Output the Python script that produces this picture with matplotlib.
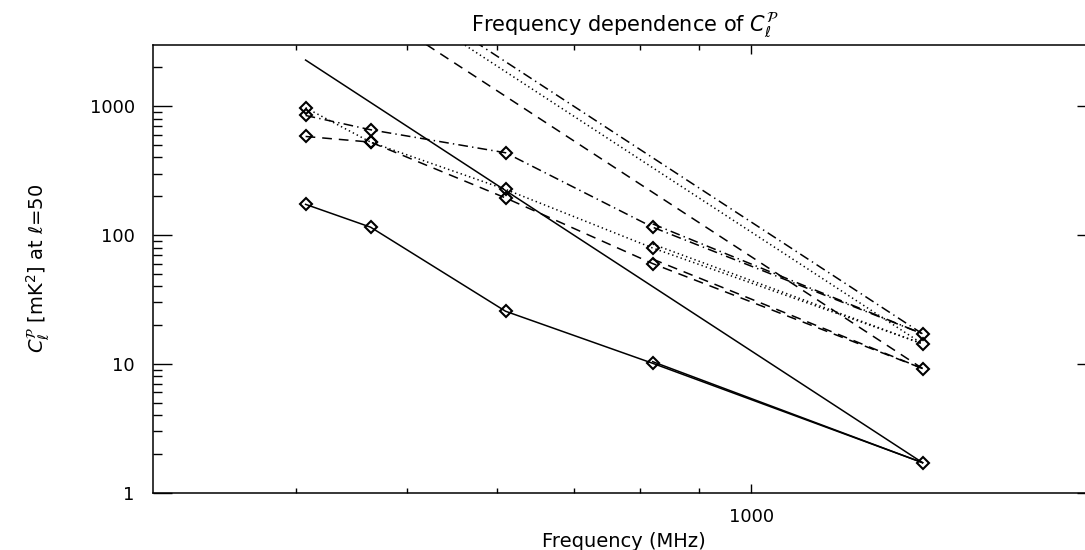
import matplotlib
matplotlib.use('Agg')
import matplotlib.pyplot as plt
from matplotlib.ticker import FixedLocator, FixedFormatter, NullFormatter

plt.rcParams['font.family'] = ['DejaVu Sans']
plt.rcParams['mathtext.fontset'] = 'dejavusans'
plt.rcParams['lines.scale_dashes'] = False

# ---- data ----
freqs = [408, 465, 610, 820, 1411]
cl_solid = [173, 115, 25.6, 10.1, 1.71]
cl_dashed = [582, 526, 194, 60, 9.2]
cl_dotted = [972, 526, 226, 79.3, 14.3]
cl_dashdot = [847, 656, 435, 115, 17.1]

# second, nearly coincident segment of each series between 820 and 1411 MHz
pair_freqs = [820, 1411]
pair_solid = [10.4, 1.71]
pair_dashed = [65, 9.2]
pair_dotted = [85, 14.3]
pair_dashdot = [122, 17.1]

# straight power-law lines (endpoints at 408 and 1411 MHz)
fit_freqs = [408, 1411]
fit_solid = [2280, 1.71]
fit_dashed = [12300, 9.2]
fit_dotted = [19100, 14.3]
fit_dashdot = [22800, 17.1]

x_major = [1000]
x_major_labels = ['1000']
x_minor = [400, 500, 600, 700, 800, 900, 2000]
y_major = [1, 10, 100, 1000]
y_major_labels = ['1', '10', '100', '1000']
y_minor = [2, 3, 4, 5, 6, 7, 8, 9, 20, 30, 40, 50, 60, 70, 80, 90,
           200, 300, 400, 500, 600, 700, 800, 900, 2000]

W, H = 1085, 550
fig = plt.figure(figsize=(W / 100, H / 100), dpi=100)
ax = fig.add_axes([152.7 / W, 57.3 / H, 943.3 / W, 448 / H])

styles = [
    (cl_solid, pair_solid, fit_solid, dict(linestyle='-')),
    (cl_dashed, pair_dashed, fit_dashed, dict(dashes=(7, 5))),
    (cl_dotted, pair_dotted, fit_dotted, dict(dashes=(1, 2.2))),
    (cl_dashdot, pair_dashdot, fit_dashdot, dict(dashes=(7, 3, 1, 3))),
]
for vals, pair, fit, st in styles:
    ax.plot(freqs, vals, color='black', lw=1.1, marker='D', ms=6.5,
            mfc='none', mec='black', mew=1.5, **st)
    ax.plot(pair_freqs, pair, color='black', lw=1.1, **st)
    ax.plot(fit_freqs, fit, color='black', lw=1.1, **st)

ax.set_xscale('log')
ax.set_yscale('log')
ax.set_xlim(300, 2000)
ax.set_ylim(1, 3000)

ax.xaxis.set_major_locator(FixedLocator(x_major))
ax.xaxis.set_major_formatter(FixedFormatter(x_major_labels))
ax.xaxis.set_minor_locator(FixedLocator(x_minor))
ax.xaxis.set_minor_formatter(NullFormatter())
ax.yaxis.set_major_locator(FixedLocator(y_major))
ax.yaxis.set_major_formatter(FixedFormatter(y_major_labels))
ax.yaxis.set_minor_locator(FixedLocator(y_minor))
ax.yaxis.set_minor_formatter(NullFormatter())

ax.tick_params(axis='both', which='both', direction='in', top=True, right=True,
               width=1.0, labelsize=13, colors='black')
ax.tick_params(axis='x', which='major', length=6.5, pad=11)
ax.tick_params(axis='x', which='minor', length=3.3)
ax.tick_params(axis='y', which='major', length=13.7, pad=13)
ax.tick_params(axis='y', which='minor', length=6.6)
for s in ax.spines.values():
    s.set_linewidth(1.1)

ax.set_title(r'Frequency dependence of $C_\ell^{\mathcal{P}}$', fontsize=15, pad=9)
ax.set_xlabel('Frequency (MHz)', fontsize=14, labelpad=4)
ax.set_ylabel(r'$C_\ell^{\mathcal{P}}$ [mK$^2$] at $\ell$=50', fontsize=14, labelpad=27)

fig.savefig('out.png', dpi=100)
